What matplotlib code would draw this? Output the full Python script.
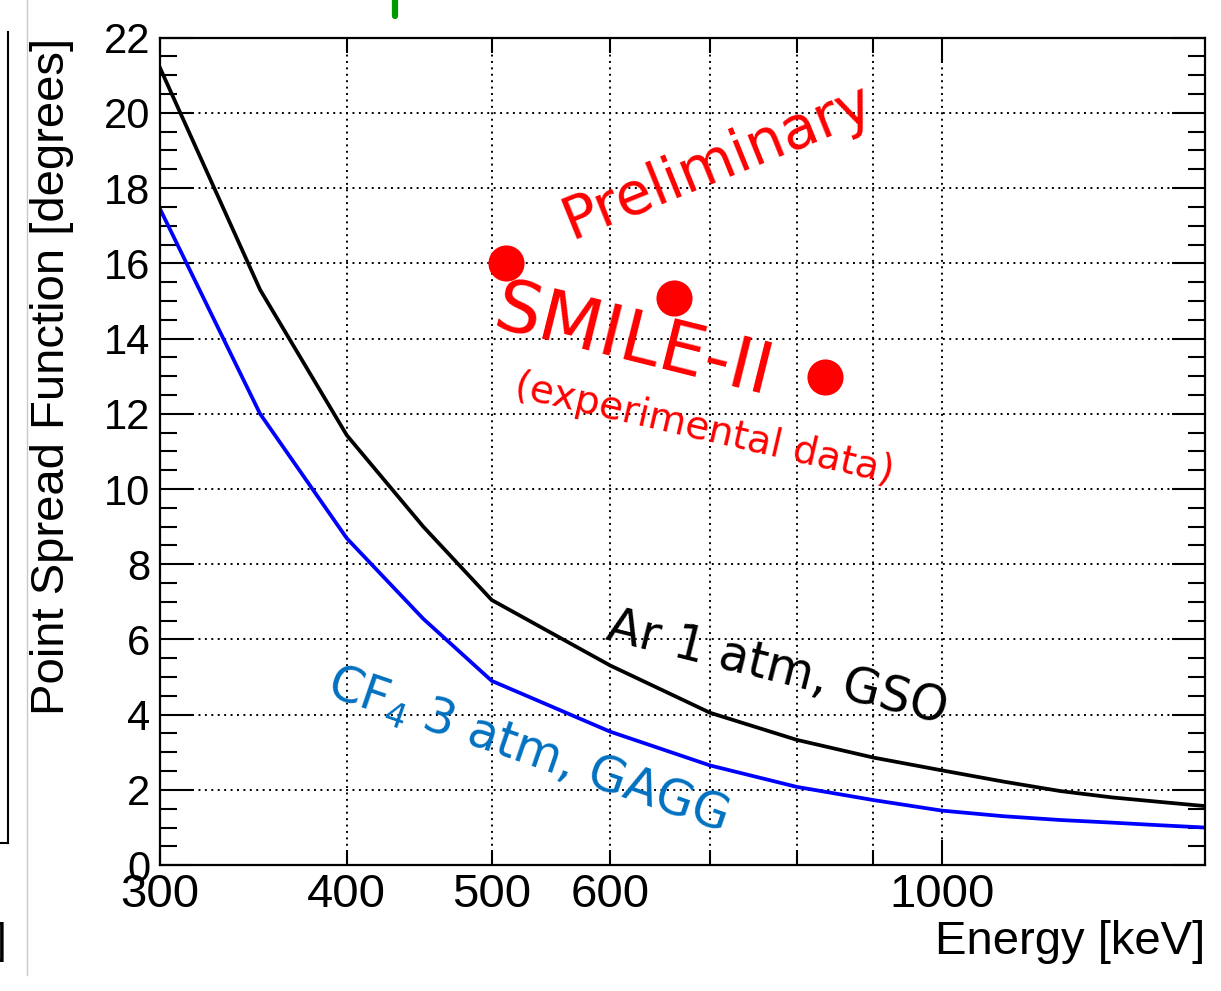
import numpy as np
import matplotlib
matplotlib.use('Agg')
import matplotlib.pyplot as plt
from matplotlib.lines import Line2D
from matplotlib.ticker import FixedLocator, FixedFormatter, MultipleLocator

# simulated PSF curves
energy = [300, 350, 400, 450, 500, 600, 700, 800, 900, 1000, 1100, 1200, 1300, 1400, 1500]
psf_ar = [21.2, 15.3, 11.43, 9.0, 7.05, 5.31, 4.05, 3.33, 2.86, 2.52, 2.22, 1.97, 1.80, 1.68, 1.57]
psf_cf4 = [17.45, 12.0, 8.69, 6.55, 4.9, 3.55, 2.65, 2.08, 1.73, 1.45, 1.30, 1.20, 1.13, 1.06, 1.0]

# SMILE-II measured points
energy_smile = [511, 662, 835]
psf_smile = [16.0, 15.08, 12.98]

minor_x = [300, 400, 500, 600, 700, 800, 900]
minor_x_labels = ['300', '400', '500', '600', '', '', '']

label_font = 'Liberation Sans'
note_font = 'DejaVu Sans'

fig = plt.figure(figsize=(12.21, 9.91), dpi=100)
ax = fig.add_axes([0.131, 0.127, 0.856, 0.835])

ax.plot(energy, psf_ar, color='black', lw=2.7, solid_joinstyle='round')
ax.plot(energy, psf_cf4, color='blue', lw=2.7, solid_joinstyle='round')
ax.plot(energy_smile, psf_smile, 'o', color='red', ms=26, mew=0)

ax.set_xscale('log')
ax.set_xlim(300, 1500)
ax.set_ylim(0, 22)

# ticks ROOT style
ax.xaxis.set_major_locator(FixedLocator([1000]))
ax.xaxis.set_major_formatter(FixedFormatter(['1000']))
ax.xaxis.set_minor_locator(FixedLocator(minor_x))
ax.xaxis.set_minor_formatter(FixedFormatter(minor_x_labels))
ax.yaxis.set_major_locator(MultipleLocator(2))
ax.yaxis.set_minor_locator(MultipleLocator(0.5))

ax.tick_params(which='both', direction='in', top=True, right=True, width=1.5)
ax.tick_params(axis='y', which='major', length=24, pad=7, labelsize=30)
ax.tick_params(axis='y', which='minor', length=12)
ax.tick_params(axis='x', which='major', length=18, pad=6, labelsize=34)
ax.tick_params(axis='x', which='minor', length=10.5, pad=6, labelsize=34)
for lab in ax.get_xticklabels(which='both') + ax.get_yticklabels():
    lab.set_fontfamily(label_font)

for s in ax.spines.values():
    s.set_linewidth(1.6)

grid_style = dict(color='black', lw=1.4, linestyle=(0, (1, 2.3)))
ax.grid(True, axis='y', which='major', **grid_style)
ax.grid(True, axis='x', which='both', **grid_style)

ax.set_ylabel('Point Spread Function [degrees]', fontsize=34, family=label_font, loc='top')
ax.yaxis.set_label_coords(-0.082, 1.0)
ax.set_xlabel('Energy [keV]', fontsize=34, family=label_font, loc='right')
ax.xaxis.set_label_coords(1.0, -0.066)

# annotations
ax.text(708, 18.7, 'Preliminary', color='red', fontsize=42, family=note_font,
        rotation=22, ha='center', va='center', rotation_mode='anchor')
ax.text(622, 13.9, 'SMILE-II', color='red', fontsize=52, family=note_font,
        rotation=-14, ha='center', va='center', rotation_mode='anchor')
ax.text(694, 11.6, '(experimental data)', color='red', fontsize=28, family=note_font,
        rotation=-13, ha='center', va='center', rotation_mode='anchor')
ax.text(776, 5.24, 'Ar 1 atm, GSO', color='black', fontsize=35, family=note_font,
        rotation=-14, ha='center', va='center', rotation_mode='anchor')
ax.text(528, 3.06, r'CF$_4$ 3 atm, GAGG', color='#0070C0', fontsize=35, family=note_font,
        rotation=-19, ha='center', va='center', rotation_mode='anchor')

# bits of the neighbouring panels cut off at the edges
fig.add_artist(Line2D([0.0066, 0.0066], [1 - 32 / 991, 1 - 843 / 991], color='black', lw=1.5))
fig.add_artist(Line2D([0.0, 0.0066], [1 - 843 / 991, 1 - 843 / 991], color='black', lw=1.5))
fig.add_artist(Line2D([0.0221, 0.0221], [1.0, 1 - 975 / 991], color='#c8c8c8', lw=1))
fig.add_artist(Line2D([0.3235, 0.3235], [1.0, 1 - 16 / 991], color='#009900', lw=4.5,
                      solid_capstyle='round'))
fig.text(-0.004, 1 - 942 / 991, ']', fontsize=30, family=label_font, va='center')

fig.savefig('out.png', dpi=100)
